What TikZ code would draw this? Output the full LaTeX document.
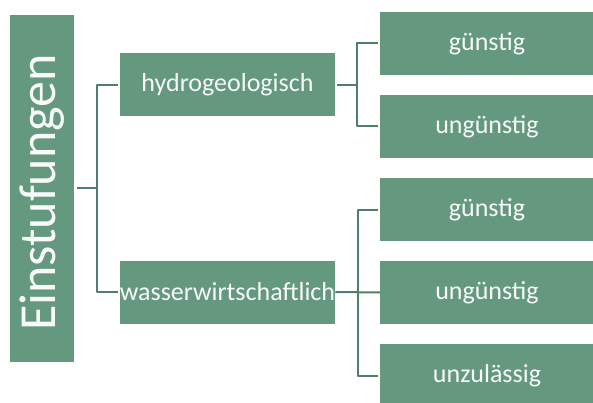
\documentclass[tikz,border=0pt]{standalone}
\usepackage{fontspec}
\setmainfont{Carlito}
\definecolor{gruen}{HTML}{64997F}
\definecolor{linie}{HTML}{4E7F68}
\tikzset{
  kasten/.style={fill=gruen, draw=none, text=white!95!gruen, inner sep=0pt,
    minimum width=215pt, minimum height=63pt, font=\fontsize{26}{28}\selectfont},
  stufe/.style={kasten, minimum width=214pt},
  ast/.style={draw=linie, line width=2pt}
}
\begin{document}
\begin{tikzpicture}[x=1pt, y=-1pt, line join=round]
			\useasboundingbox (0,0) rectangle (593,403);
			%\draw[gray!40] (0,0) grid[step=50] (593,403);
			% Wurzel, senkrecht beschriftet
			\node[fill=gruen, minimum width=64pt, minimum height=347pt, inner sep=0pt] (wurzel) at (42,188.5) {};
			\node[rotate=90, text=white!95!gruen, font=\fontsize{52}{54}\selectfont] at ([yshift=-4pt]wurzel.center) {Einstufungen};
			% zweite Ebene
			\node[kasten] (hydro) at (227.5,85) {hydrogeologisch};
			\node[kasten] (wasser) at (227.5,292) {wasserwirtschaftlich};
			% dritte Ebene
			\node[stufe] (h1) at (487,43.5) {günstig};
			\node[stufe] (h2) at (487,126.5) {ungünstig};
			\node[stufe] (w1) at (487,209.5) {günstig};
			\node[stufe] (w2) at (487,292.5) {ungünstig};
			\node[stufe] (w3) at (487,375.5) {unzulässig};
			% Verbindungen
			\draw[ast] ([xshift=3pt]wurzel.east) -- ++(20,0) coordinate (j0) |- ([xshift=-2pt]hydro.west);
			\draw[ast] (j0) |- ([xshift=-2pt]wasser.west);
			\draw[ast] ([xshift=2pt]hydro.east) -- ++(20,0) coordinate (j1) |- ([xshift=-2pt]h1.west);
			\draw[ast] (j1) |- ([xshift=-2pt]h2.west);
			\draw[ast] (wasser.east) -- (w2.west);
			\draw[ast] (w1.west) ++(-2,0) -| ([xshift=-22pt]w3.west) -- ([xshift=-2pt]w3.west);
		\end{tikzpicture}
\end{document}
